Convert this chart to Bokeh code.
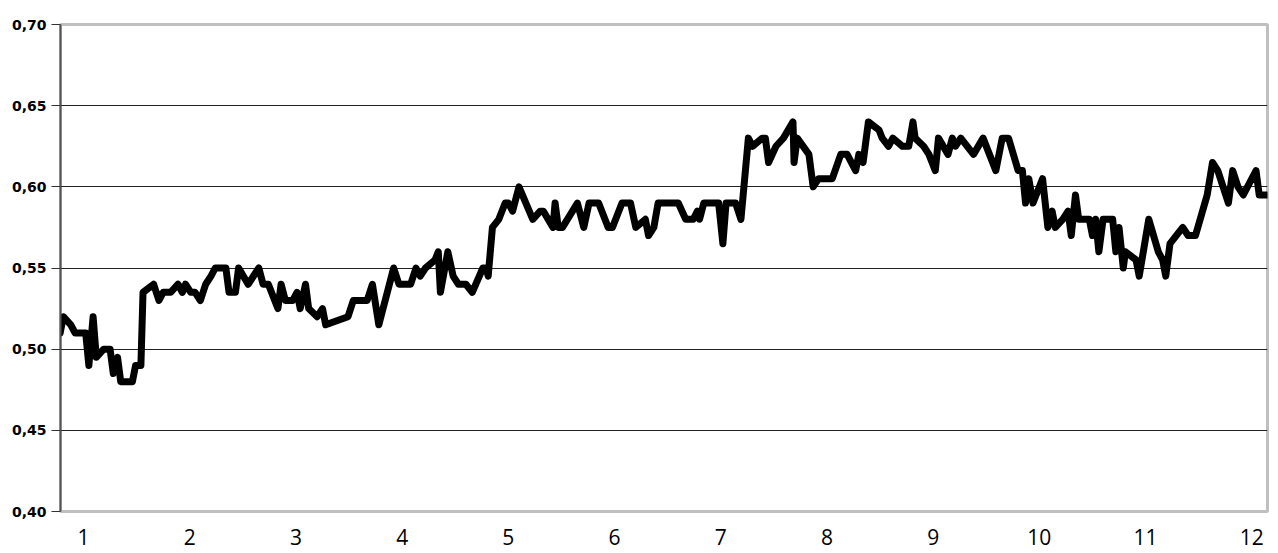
from bokeh.plotting import figure
from bokeh.models import Range1d, FixedTicker, CustomJSTickFormatter
from bokeh.embed import file_html
from bokeh.resources import INLINE

# x positions in months (1..12 tick labels)
months = [0.78, 0.81, 0.88, 0.92, 1.02, 1.05, 1.09, 1.12, 1.19, 1.25, 1.28, 1.32, 1.35, 1.46, 1.49,
          1.54, 1.56, 1.66, 1.71, 1.75, 1.82, 1.89, 1.93, 1.96, 2.01, 2.05, 2.10, 2.15, 2.20, 2.24,
          2.34, 2.37, 2.43, 2.46, 2.55, 2.65, 2.69, 2.74, 2.83, 2.86, 2.90, 2.97, 3.01, 3.04, 3.09,
          3.12, 3.20, 3.25, 3.28, 3.49, 3.54, 3.67, 3.72, 3.78, 3.86, 3.92, 3.97, 4.08, 4.13, 4.17,
          4.22, 4.31, 4.34, 4.36, 4.43, 4.48, 4.53, 4.60, 4.66, 4.76, 4.79, 4.81, 4.85, 4.91, 4.97,
          5.00, 5.04, 5.10, 5.23, 5.30, 5.33, 5.42, 5.44, 5.47, 5.51, 5.65, 5.71, 5.76, 5.85, 5.94,
          5.98, 6.07, 6.15, 6.20, 6.29, 6.32, 6.37, 6.41, 6.60, 6.67, 6.74, 6.78, 6.80, 6.84, 6.98,
          7.02, 7.05, 7.14, 7.19, 7.26, 7.30, 7.39, 7.42, 7.45, 7.52, 7.59, 7.68, 7.69, 7.72, 7.83,
          7.87, 7.92, 8.05, 8.13, 8.19, 8.27, 8.30, 8.34, 8.39, 8.49, 8.52, 8.58, 8.62, 8.71, 8.77,
          8.81, 8.83, 8.91, 8.96, 9.02, 9.05, 9.14, 9.18, 9.21, 9.26, 9.38, 9.47, 9.59, 9.65, 9.71,
          9.80, 9.84, 9.87, 9.90, 9.94, 10.03, 10.08, 10.12, 10.15, 10.22, 10.27, 10.30, 10.34, 10.37, 10.47,
          10.50, 10.53, 10.56, 10.60, 10.69, 10.72, 10.75, 10.79, 10.81, 10.91, 10.94, 11.03, 11.12, 11.16, 11.19,
          11.23, 11.35, 11.40, 11.47, 11.58, 11.63, 11.68, 11.78, 11.82, 11.87, 11.92, 12.04, 12.07, 12.15]
values = [0.51, 0.52, 0.515, 0.51, 0.51, 0.49, 0.52, 0.495, 0.50, 0.50, 0.485, 0.495, 0.48, 0.48, 0.49,
          0.49, 0.535, 0.54, 0.53, 0.535, 0.535, 0.54, 0.535, 0.54, 0.535, 0.535, 0.53, 0.54, 0.545, 0.55,
          0.55, 0.535, 0.535, 0.55, 0.54, 0.55, 0.54, 0.54, 0.525, 0.54, 0.53, 0.53, 0.535, 0.525, 0.54,
          0.525, 0.52, 0.525, 0.515, 0.52, 0.53, 0.53, 0.54, 0.515, 0.535, 0.55, 0.54, 0.54, 0.55, 0.545,
          0.55, 0.555, 0.56, 0.535, 0.56, 0.545, 0.54, 0.54, 0.535, 0.55, 0.55, 0.545, 0.575, 0.58, 0.59,
          0.59, 0.585, 0.60, 0.58, 0.585, 0.585, 0.575, 0.59, 0.575, 0.575, 0.59, 0.575, 0.59, 0.59, 0.575,
          0.575, 0.59, 0.59, 0.575, 0.58, 0.57, 0.575, 0.59, 0.59, 0.58, 0.58, 0.585, 0.58, 0.59, 0.59,
          0.565, 0.59, 0.59, 0.58, 0.63, 0.625, 0.63, 0.63, 0.615, 0.625, 0.63, 0.64, 0.615, 0.63, 0.62,
          0.60, 0.605, 0.605, 0.62, 0.62, 0.61, 0.62, 0.615, 0.64, 0.635, 0.63, 0.625, 0.63, 0.625, 0.625,
          0.64, 0.63, 0.625, 0.62, 0.61, 0.63, 0.62, 0.63, 0.625, 0.63, 0.62, 0.63, 0.61, 0.63, 0.63,
          0.61, 0.61, 0.59, 0.605, 0.59, 0.605, 0.575, 0.585, 0.575, 0.58, 0.585, 0.57, 0.595, 0.58, 0.58,
          0.57, 0.58, 0.56, 0.58, 0.58, 0.56, 0.575, 0.55, 0.56, 0.555, 0.545, 0.58, 0.56, 0.555, 0.545,
          0.565, 0.575, 0.57, 0.57, 0.595, 0.615, 0.61, 0.59, 0.61, 0.60, 0.595, 0.61, 0.595, 0.595]

x_ticks = [1, 2, 3, 4, 5, 6, 7, 8, 9, 10, 11, 12]
y_ticks = [0.40, 0.45, 0.50, 0.55, 0.60, 0.65, 0.70]
grid_ticks = [0.45, 0.50, 0.55, 0.60, 0.65]

p = figure(width=1270, height=553, output_backend="svg", toolbar_location=None,
           x_range=Range1d(0.783, 12.148), y_range=Range1d(0.40, 0.70),
           min_border_left=60, min_border_right=3, min_border_top=24, min_border_bottom=42)
p.outline_line_color = "#c0c0c0"
p.outline_line_width = 3
p.background_fill_color = "white"
p.border_fill_color = "white"

p.line(months, values, line_color="black", line_width=7, line_join="round", line_cap="round")

p.xgrid.visible = False
p.ygrid.ticker = FixedTicker(ticks=grid_ticks)
p.ygrid.grid_line_color = "#222222"
p.ygrid.grid_line_width = 1

xa = p.xaxis[0]
xa.ticker = FixedTicker(ticks=x_ticks)
xa.axis_line_color = "#c0c0c0"
xa.axis_line_width = 3
xa.major_tick_line_color = None
xa.minor_tick_line_color = None
xa.major_label_standoff = 11
xa.major_label_text_font = "Open Sans"
xa.major_label_text_font_size = "21px"
xa.major_label_text_color = "black"

ya = p.yaxis[0]
ya.ticker = FixedTicker(ticks=y_ticks)
ya.formatter = CustomJSTickFormatter(code="return tick.toFixed(2).replace('.', ',');")
ya.axis_line_color = "#555555"
ya.axis_line_width = 2
ya.major_tick_line_color = "#333333"
ya.major_tick_line_width = 1
ya.major_tick_in = 0
ya.major_tick_out = 9
ya.minor_tick_line_color = None
ya.major_label_standoff = 5
ya.major_label_text_font = "DejaVu Sans"
ya.major_label_text_font_style = "bold"
ya.major_label_text_font_size = "14px"
ya.major_label_text_color = "black"

open("out.html", "w").write(file_html(p, INLINE))
